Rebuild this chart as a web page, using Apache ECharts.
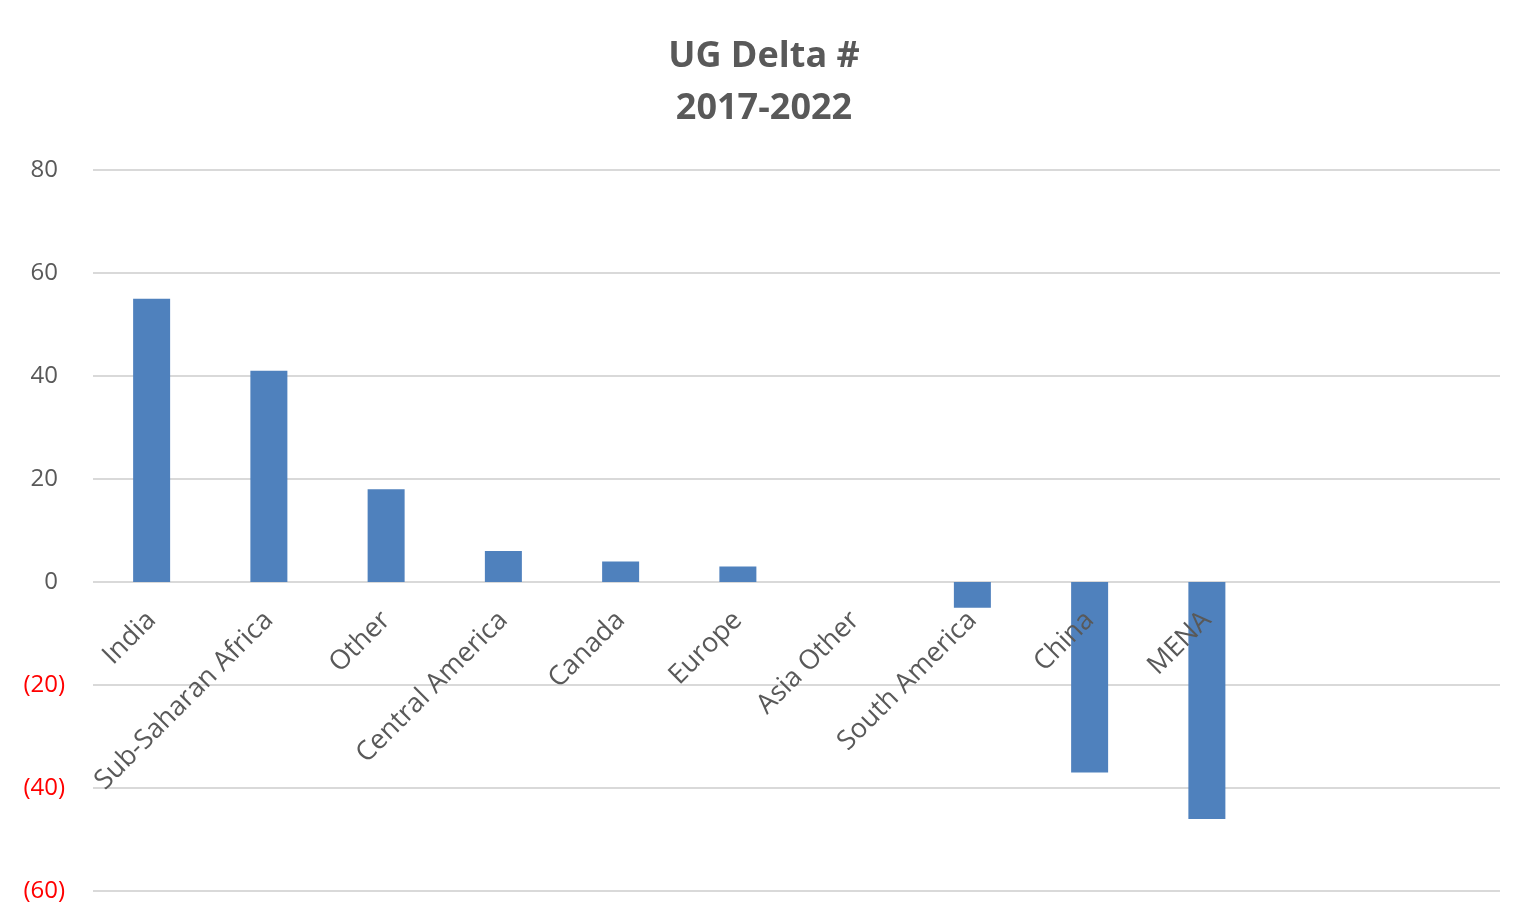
<!DOCTYPE html>
<html>
<head>
<meta charset="utf-8">
<script src="https://cdn.jsdelivr.net/npm/echarts@6/dist/echarts.min.js"></script>
<style>
html,body{margin:0;padding:0;background:#fff;}
#chart{width:1528px;height:922px;}
</style>
</head>
<body>
<div id="chart"></div>
<script>
const titleLines = ['UG Delta #', '2017-2022'];
const categories = ['India', 'Sub-Saharan Africa', 'Other', 'Central America', 'Canada', 'Europe', 'Asia Other', 'South America', 'China', 'MENA', '', ''];
const values = [55, 41, 18, 6, 4, 3, 0, -5, -37, -46, null, null];
const yMin = -60, yMax = 80, yStep = 20;

const chart = echarts.init(document.getElementById('chart'));
chart.setOption({
  backgroundColor: '#fff',
  animation: false,
  title: {
    text: titleLines.join('\n'),
    left: 'center',
    top: 26,
    textStyle: {
      fontFamily: 'Open Sans',
      fontSize: 36,
      fontWeight: 'bold',
      color: '#595959',
      lineHeight: 52
    }
  },
  grid: { left: 93, right: 28, top: 170, bottom: 31, containLabel: false, outerBoundsMode: 'none' },
  xAxis: {
    type: 'category',
    data: categories,
    position: 'bottom',
    offset: -309,
    axisLine: { show: false, onZero: false },
    axisTick: { show: false },
    axisLabel: {
      interval: 0,
      rotate: 45,
      margin: 34,
      fontFamily: 'Open Sans',
      fontSize: 27,
      color: '#595959'
    },
    z: 10
  },
  yAxis: {
    type: 'value',
    min: yMin,
    max: yMax,
    interval: yStep,
    axisLine: { show: false },
    axisTick: { show: false },
    splitLine: { lineStyle: { color: '#D9D9D9', width: 2 } },
    axisLabel: {
      margin: 28,
      formatter: function (v) {
        return v < 0 ? '{neg|(' + Math.abs(v) + ')}' : '{pos|' + v + '}';
      },
      rich: {
        pos: { fontFamily: 'Open Sans', fontSize: 24, color: '#595959', padding: [0, 7, 0, 0] },
        neg: { fontFamily: 'Open Sans', fontSize: 24, color: '#FF0000' }
      }
    }
  },
  series: [{
    type: 'bar',
    data: values,
    barWidth: 37,
    itemStyle: { color: '#4F81BD' },
    z: 2
  }]
});
</script>
</body>
</html>
